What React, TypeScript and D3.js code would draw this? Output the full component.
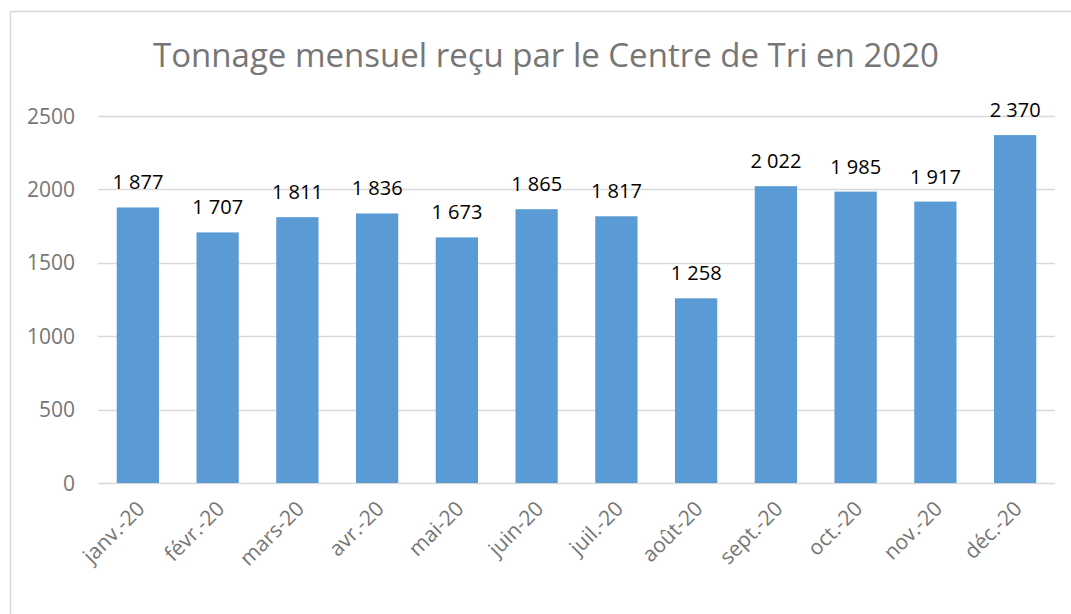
import React, { useEffect, useRef } from 'react';
import * as d3 from 'd3';

const months = ['janv.-20', 'févr.-20', 'mars-20', 'avr.-20', 'mai-20', 'juin-20', 'juil.-20', 'août-20', 'sept.-20', 'oct.-20', 'nov.-20', 'déc.-20'];
const tonnage = [1877, 1707, 1811, 1836, 1673, 1865, 1817, 1258, 2022, 1985, 1917, 2370];
const yTicks = [0, 500, 1000, 1500, 2000, 2500];
const title = 'Tonnage mensuel reçu par le Centre de Tri en 2020';

const W = 1071;
const H = 614;
const plot = { left: 98, right: 1055, top: 116, bottom: 483 };
const font = "'Open Sans', sans-serif";

// "1 877" style, like the french excel format
const fmt = (v: number) => d3.format(',')(v).replace(/,/g, ' ');

const App = () => {
  const ref = useRef<SVGSVGElement>(null);

  useEffect(() => {
    if (!ref.current) return;
    const svg = d3.select(ref.current);
    svg.selectAll('*').remove();

    const x = d3.scaleBand().domain(months).range([plot.left, plot.right]).paddingInner(0.47).paddingOuter(0.235);
    const y = d3.scaleLinear().domain([0, 2500]).range([plot.bottom, plot.top]);

    // chart frame
    svg.append('rect')
      .attr('x', 10.5).attr('y', 11.5)
      .attr('width', W + 20).attr('height', H + 20)
      .attr('fill', 'white').attr('stroke', '#d9d9d9').attr('stroke-width', 1.5);

    svg.append('text')
      .attr('x', 546).attr('y', 67)
      .attr('text-anchor', 'middle')
      .attr('font-family', font).attr('font-size', 33)
      .attr('fill', '#767676')
      .text(title);

    // gridlines
    const grid = svg.append('g');
    grid.selectAll('line').data(yTicks).enter().append('line')
      .attr('x1', plot.left).attr('x2', plot.right)
      .attr('y1', d => Math.round(y(d)) + 0.5).attr('y2', d => Math.round(y(d)) + 0.5)
      .attr('stroke', '#d9d9d9').attr('stroke-width', 1.5);

    grid.selectAll('text').data(yTicks).enter().append('text')
      .attr('x', 75).attr('y', d => y(d) + 7.5)
      .attr('text-anchor', 'end')
      .attr('font-family', font).attr('font-size', 21)
      .attr('fill', '#767676')
      .text(d => d);

    // bars
    svg.selectAll('.bar').data(tonnage).enter().append('rect')
      .attr('class', 'bar')
      .attr('x', (d, i) => x(months[i])!)
      .attr('y', d => y(d))
      .attr('width', x.bandwidth())
      .attr('height', d => plot.bottom - y(d))
      .attr('fill', '#5b9bd5');

    // value labels
    svg.selectAll('.lbl').data(tonnage).enter().append('text')
      .attr('class', 'lbl')
      .attr('x', (d, i) => x(months[i])! + x.bandwidth() / 2)
      .attr('y', d => y(d) - 18)
      .attr('text-anchor', 'middle')
      .attr('font-family', font).attr('font-size', 20)
      .attr('fill', '#000')
      .text(d => fmt(d));

    // month labels, rotated
    svg.selectAll('.xl').data(months).enter().append('text')
      .attr('class', 'xl')
      .attr('transform', d => `translate(${x(d)! + x.bandwidth() / 2 + 8},${plot.bottom + 27}) rotate(-45)`)
      .attr('text-anchor', 'end')
      .attr('font-family', font).attr('font-size', 21)
      .attr('fill', '#767676')
      .text(d => d);
  }, []);

  return (
    <div style={{ position: 'fixed', left: 0, top: 0 }}>
      <svg ref={ref} width={W} height={H} style={{ display: 'block', background: 'white' }} />
    </div>
  );
};

export default App;
